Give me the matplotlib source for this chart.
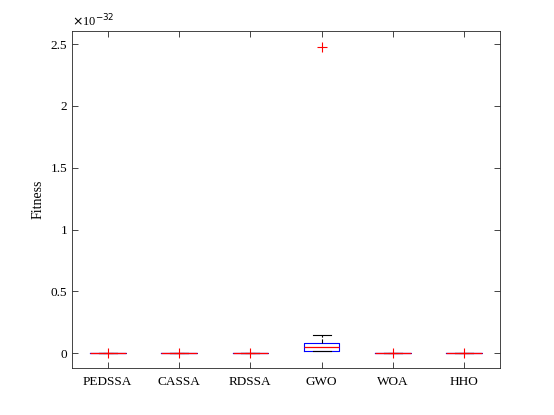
import matplotlib.pyplot as plt
import numpy as np

plt.rcParams['font.family'] = ['Liberation Serif', 'DejaVu Serif']

# algoritmos y estadisticas de las cajas (unidades de 1e-32)
algos = ['PEDSSA', 'CASSA', 'RDSSA', 'GWO', 'WOA', 'HHO']
q1 = [0.0, 0.0, 0.0, 0.016, 0.0, 0.0]
med = [0.0, 0.0, 0.0, 0.048, 0.0, 0.0]
q3 = [0.0, 0.0, 0.0, 0.080, 0.0, 0.0]
wlo = [0.0, 0.0, 0.0, 0.014, 0.0, 0.0]
whi = [0.0, 0.0, 0.0, 0.148, 0.0, 0.0]
outliers = [[0.0], [0.0], [0.0], [2.48], [0.0], [0.0]]

stats = []
for i in range(len(algos)):
    stats.append(dict(label=algos[i], q1=q1[i], med=med[i], q3=q3[i],
                      whislo=wlo[i], whishi=whi[i], fliers=outliers[i]))

fig = plt.figure(figsize=(5.54, 4.15), dpi=100)
ax = fig.add_axes([0.130, 0.1133, 0.7725, 0.8117])

ax.bxp(stats, positions=np.arange(1, 7), widths=0.5,
       boxprops=dict(color='blue', linewidth=0.8),
       medianprops=dict(color='red', linewidth=0.9),
       whiskerprops=dict(color='black', linewidth=0.8, linestyle='--'),
       capprops=dict(color='black', linewidth=0.8),
       flierprops=dict(marker='+', markeredgecolor='red', markersize=7,
                       markeredgewidth=0.8, linestyle='none'))

ax.set_xlim(0.5, 6.5)
ax.set_ylim(-0.12, 2.605)
ax.set_yticks([0, 0.5, 1, 1.5, 2, 2.5])
ax.set_yticklabels(['0', '0.5', '1', '1.5', '2', '2.5'])
ax.set_xticklabels(algos)
ax.set_ylabel('Fitness', fontsize=10)
ax.tick_params(direction='in', top=True, right=True, labelsize=9.5,
               length=4, color='0.15', width=0.6)
ax.tick_params(axis='x', pad=6)
for s in ax.spines.values():
    s.set_color('0.15')
    s.set_linewidth(0.6)
ax.text(0.0, 1.005, r'$\times$10$^{-32}$', transform=ax.transAxes,
        fontsize=9, ha='left', va='bottom')

fig.savefig('out.png')
